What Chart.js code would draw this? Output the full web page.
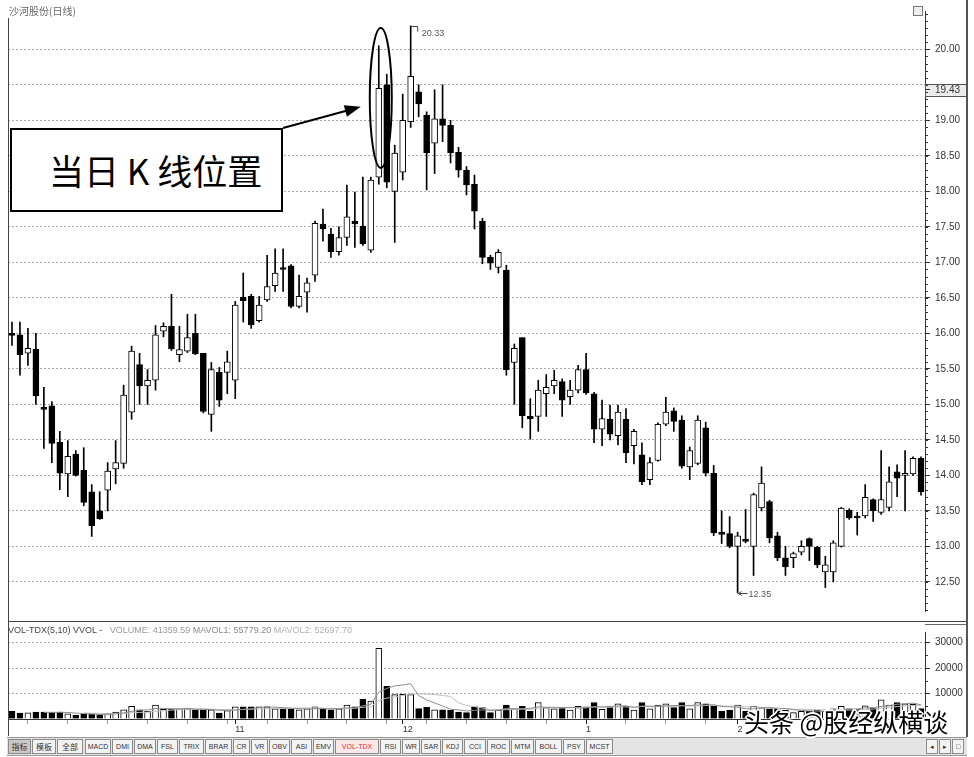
<!DOCTYPE html>
<html lang="zh-CN">
<head>
<meta charset="utf-8">
<title>沙河股份(日线)</title>
<script src="https://cdn.jsdelivr.net/npm/chart.js@4.4.1/dist/chart.umd.min.js"></script>
<style>
html,body{margin:0;padding:0;background:#fff;}
body{width:974px;height:757px;position:relative;overflow:hidden;font-family:"Liberation Sans","DejaVu Sans",Arial,sans-serif;}
canvas{position:absolute;left:0;}
#priceCanvas{top:0;}
#volCanvas{top:621px;}
.ln{position:absolute;background:#444;}
#title{position:absolute;left:9px;top:3px;font-size:10px;color:#666;font-family:"Noto Sans CJK SC",sans-serif;white-space:nowrap;}
#volhead{position:absolute;left:8px;top:625px;font-size:9px;white-space:nowrap;color:#999;}
#volhead .d{color:#444;}
#note{position:absolute;left:10px;top:128px;width:269px;height:80px;border:2px solid #000;background:#fff;font-family:"Noto Sans CJK SC",sans-serif;font-size:35px;line-height:80px;padding-left:0;box-sizing:content-box;color:#000;}
#note span{position:absolute;left:37px;top:0;white-space:nowrap;}
#tabs{position:absolute;left:7px;top:737px;width:960px;height:17px;background:#e4e4e4;border-top:1px solid #999;border-bottom:1px solid #999;}
.tab{position:absolute;top:1px;height:13px;border:1px solid #8a8a8a;background:#f3f3f3;font-size:7px;line-height:13px;text-align:center;color:#333;white-space:nowrap;overflow:hidden;font-family:"Liberation Sans",sans-serif;}
.tab.cjk{font-family:"Noto Sans CJK SC",sans-serif;font-size:8px;}
.tab.sel{background:#c8c8c8;}
.tab.red{color:#e0303a;background:#fbe9ea;}
#wm{position:absolute;left:744px;top:703px;font-family:"Noto Sans CJK SC",sans-serif;font-size:25px;color:#000;white-space:nowrap;
 text-shadow:1px 1px 0 #fff,-1px -1px 0 #fff,1px -1px 0 #fff,-1px 1px 0 #fff,2px 0 0 #fff,-2px 0 0 #fff,0 2px 0 #fff,0 -2px 0 #fff;}
#icon{position:absolute;left:913px;top:6px;width:8px;height:8px;border:1px solid #777;background:#eee;}
</style>
</head>
<body>
<canvas id="priceCanvas" width="974" height="622"></canvas>
<canvas id="volCanvas" width="974" height="116"></canvas>

<div class="ln" style="left:8px;top:18px;width:1px;height:718px;"></div>
<div class="ln" style="left:8px;top:621px;width:960px;height:1px;"></div>
<div class="ln" style="left:966px;top:0px;width:2px;height:737px;background:#555;"></div>
<div class="ln" style="left:925px;top:624px;width:42px;height:1px;background:#666;"></div>
<div id="icon"></div>
<div id="title">沙河股份(日线)</div>
<div id="volhead"><span class="d">VOL-TDX(5,10) VVOL -</span>&nbsp;&nbsp; VOLUME: 41359.59 <span style="color:#888">MAVOL1: 55779.20</span> <span style="color:#b0b0b0">MAVOL2: 52697.70</span></div>
<div id="note"><span>当日 K 线位置</span></div>
<div id="tabs"></div>
<div id="wm">头条 @股经纵横谈</div>

<script>
// ---------------- DATA ----------------
const days = Array.from({length: 115}, (_, i) => String(i + 1));   // trading-day categories

const openP = [
 16.00,15.98,15.72,15.78,14.95,14.98,14.47,14.02,14.30,14.07,
 13.77,13.50,13.79,14.09,14.17,14.89,15.56,15.26,15.34,16.03,
 16.10,15.70,15.75,16.00,15.72,14.86,15.45,15.45,15.34,16.51,
 16.52,16.18,16.47,16.67,16.92,16.95,16.38,16.58,16.82,17.54,
 17.40,17.15,17.35,17.58,17.51,17.17,18.20,19.50,18.00,18.27,
 18.98,19.40,19.07,18.68,19.02,18.93,18.55,18.30,18.10,17.58,
 17.07,16.93,16.89,15.59,15.94,14.83,14.83,15.15,15.26,15.32,
 15.11,15.20,15.49,15.15,14.65,14.79,14.56,14.79,14.42,14.29,
 13.94,14.21,14.72,14.91,14.78,14.12,14.17,14.67,14.03,13.19,
 13.18,13.00,13.09,13.00,13.54,13.63,13.15,12.84,12.84,12.92,
 13.11,12.99,12.64,12.64,13.00,13.51,13.41,13.43,13.66,13.48,
 13.55,14.05,14.00,14.02,14.24];
const closeP = [
 15.97,15.70,15.79,15.12,14.93,14.45,14.03,14.27,14.00,13.62,
 13.29,13.39,14.06,14.18,15.13,15.75,15.26,15.34,15.98,16.10,
 15.78,15.77,15.94,15.71,14.90,15.49,15.06,15.60,16.40,16.46,
 16.12,16.40,16.66,16.85,16.90,16.38,16.52,16.71,17.55,17.47,
 17.15,17.35,17.64,17.54,17.26,18.16,19.45,18.13,18.54,19.00,
 19.62,19.23,18.54,19.02,18.93,18.54,18.30,18.09,17.72,17.07,
 16.99,17.14,15.49,15.79,14.84,14.80,15.20,15.24,15.34,15.06,
 15.20,15.49,15.16,14.65,14.80,14.58,14.89,14.32,14.62,13.91,
 14.18,14.72,14.89,14.76,14.13,14.35,14.78,14.03,13.19,13.17,
 13.00,13.15,13.07,13.73,13.89,13.12,12.84,12.71,12.90,13.00,
 13.00,12.74,12.74,13.05,13.54,13.40,13.40,13.69,13.50,13.66,
 13.91,13.96,14.02,14.24,13.77];
const highP = [
 16.16,16.16,16.07,16.00,15.24,15.04,14.62,14.49,14.35,14.39,
 13.87,13.77,14.18,14.49,15.27,15.82,15.72,15.49,16.11,16.15,
 16.55,16.10,16.27,16.27,15.72,15.59,15.52,15.75,16.45,16.85,
 16.55,16.52,17.10,17.19,17.19,16.97,16.82,16.78,17.58,17.75,
 17.48,17.50,18.09,17.99,18.20,18.20,20.05,19.65,18.65,19.37,
 20.33,19.50,19.12,19.43,19.50,19.00,18.62,18.35,18.23,17.62,
 17.10,17.18,16.96,15.85,15.94,15.08,15.34,15.42,15.48,15.36,
 15.34,15.55,15.72,15.17,15.06,14.99,14.99,14.94,14.65,14.46,
 14.25,14.74,15.10,14.95,14.84,14.40,14.84,14.75,14.14,13.50,
 13.42,13.20,13.52,13.75,14.12,13.65,13.20,13.00,12.92,13.08,
 13.12,13.00,12.86,13.08,13.55,13.53,13.48,13.87,13.67,14.35,
 14.12,14.15,14.35,14.26,14.26];
const lowP = [
 15.83,15.41,15.55,15.00,14.38,14.18,13.80,13.70,13.99,13.57,
 13.14,13.38,13.50,13.88,14.10,14.79,15.00,15.00,15.20,15.95,
 15.76,15.60,15.73,15.70,14.88,14.62,14.97,15.15,15.08,16.16,
 16.07,16.16,16.45,16.59,16.59,16.36,16.36,16.30,16.73,17.30,
 17.07,17.10,17.24,17.21,17.24,17.14,18.10,18.05,17.28,18.16,
 18.90,19.05,18.02,18.25,18.70,18.40,18.20,17.95,17.47,16.98,
 16.90,16.85,15.41,15.00,14.67,14.51,14.62,14.83,15.15,14.83,
 15.00,15.16,15.14,14.46,14.42,14.50,14.43,14.18,14.16,13.87,
 13.87,14.20,14.70,14.62,14.10,13.94,14.15,13.99,13.15,13.04,
 12.98,12.35,13.05,12.59,13.50,13.05,12.80,12.59,12.70,12.88,
 12.80,12.70,12.42,12.50,12.99,13.38,13.16,13.40,13.35,13.45,
 13.50,13.70,13.50,14.00,13.72];
const volume = [
 3000,2300,2400,2700,2700,2700,2700,2000,1500,1800,
 1800,1600,2200,2700,3600,5000,3600,3000,5500,3800,
 4000,3800,4000,3600,3600,3600,2300,3300,4800,4800,
 4800,4800,4800,4000,3900,4000,3600,4000,4800,3900,
 3600,4000,5500,4800,7800,7000,27800,12800,9600,9700,
 9600,4100,4600,3600,3600,3400,2700,2500,4800,4500,
 2500,3500,5500,4000,5000,3000,6500,4500,4000,4500,
 3500,5000,4800,6500,3800,4500,6000,5000,3500,6500,
 4000,5500,6000,4500,6500,4000,6500,6000,5000,3000,
 3500,5500,3000,5000,4500,4000,3800,3500,2500,3000,
 3000,3500,3000,4000,5000,4000,3800,5200,4264,7500,
 5500,6500,6000,5800,4136];

const priceTickValues = [12.5,13.0,13.5,14.0,14.5,15.0,15.5,16.0,16.5,17.0,17.5,18.0,18.5,19.0,19.5,20.0];
const unlabeledTick = 19.5;      // gridline kept, its label is covered by the marked-price box
const markedPrice = 19.43;
const volTickValues = [0,10000,20000,30000];
const monthTickIdx = [28,49,72,91];
const monthTickText = ['11','12','1','2'];
const highLabel = {idx: 50, text: '20.33'};
const lowLabel = {idx: 91, text: '12.35'};
const circledIdx = [46,47];
const maPeriods = [5,10];

// ---------------- derived ----------------
const isUp = openP.map((o,i)=>closeP[i] >= o);
const bodies = openP.map((o,i)=>[o, closeP[i]]);
const wicks = lowP.map((l,i)=>[l, highP[i]]);
function movingAvg(arr, n){ return arr.map((_,i)=> i < n-1 ? null : arr.slice(i-n+1,i+1).reduce((a,b)=>a+b,0)/n); }
const ma1 = movingAvg(volume, maPeriods[0]);
const ma2 = movingAvg(volume, maPeriods[1]);

// ---------------- tabs ----------------
const tabNames = ['指标','模板','全部','MACD','DMI','DMA','FSL','TRIX','BRAR','CR','VR','OBV','ASI','EMV','VOL-TDX','RSI','WR','SAR','KDJ','CCI','ROC','MTM','BOLL','PSY','MCST'];
const tabBoxes = [[1,21],[25,22],[50,24],[78,24],[105,19],[127,20],[150,19],[172,23],[198,25],[226,15],[244,15],[262,19],[284,19],[306,19],[328,42],[373,19],[395,16],[414,18],[435,19],[457,20],[480,21],[504,21],[528,25],[556,20],[579,25]];
const tabsEl = document.getElementById('tabs');
tabNames.forEach((t,i)=>{
  const d = document.createElement('div');
  d.className = 'tab' + (i<3 ? ' cjk' : '') + (i===0 ? ' sel' : '') + (t==='VOL-TDX' ? ' red' : '');
  d.style.left = tabBoxes[i][0] + 'px'; d.style.width = tabBoxes[i][1] + 'px';
  d.textContent = t; tabsEl.appendChild(d);
});
['◂','▸','□'].forEach((t,i)=>{
  const d = document.createElement('div');
  d.className='tab'; d.style.left=(919+i*13)+'px'; d.style.width='10px'; d.textContent=t; tabsEl.appendChild(d);
});

// ---------------- charts ----------------
const AXIS_W = 42;
const common = {
  responsive:false, animation:false, devicePixelRatio:1,
  plugins:{legend:{display:false}, tooltip:{enabled:false}}
};

const priceExtras = {
  id:'priceExtras',
  beforeDraw(chart){
    const {ctx, scales:{y}, chartArea} = chart;
    const py = y.getPixelForValue(markedPrice);
    ctx.save(); ctx.fillStyle='#ececec';
    ctx.fillRect(chartArea.right+1, py-6, AXIS_W-2, 12);
    ctx.restore();
  },
  afterDraw(chart){
    const {ctx, scales:{x,y}, chartArea} = chart;
    ctx.save();
    // minor ticks
    ctx.strokeStyle='#333'; ctx.lineWidth=1;
    for (let k = Math.ceil(y.min*10); k <= Math.floor(y.max*10); k++){
      const py = Math.round(y.getPixelForValue(k/10))+0.5;
      ctx.beginPath(); ctx.moveTo(chartArea.right, py); ctx.lineTo(chartArea.right+3, py); ctx.stroke();
    }
    // marked price box
    const mp = Math.round(y.getPixelForValue(markedPrice))+0.5;
    ctx.strokeStyle='#555';
    ctx.strokeRect(chartArea.right+0.5, mp-6, AXIS_W-1, 12);
    // high label
    ctx.strokeStyle='#444'; ctx.fillStyle='#555'; ctx.font='9px "Liberation Sans", Arial';
    const hx = x.getPixelForValue(highLabel.idx), hy = Math.round(y.getPixelForValue(highP[highLabel.idx]))+0.5;
    ctx.beginPath(); ctx.moveTo(hx, hy); ctx.lineTo(hx+7, hy); ctx.lineTo(hx+7, hy+5); ctx.stroke();
    ctx.textBaseline='middle'; ctx.textAlign='left';
    ctx.fillText(highLabel.text, hx+11, hy+7);
    // low label
    const lx = x.getPixelForValue(lowLabel.idx), ly = Math.round(y.getPixelForValue(lowP[lowLabel.idx]))+0.5;
    ctx.beginPath(); ctx.moveTo(lx, ly); ctx.lineTo(lx+10, ly); ctx.stroke();
    ctx.beginPath(); ctx.moveTo(lx+1, ly); ctx.lineTo(lx+4, ly-2); ctx.moveTo(lx+1, ly); ctx.lineTo(lx+4, ly+2); ctx.stroke();
    ctx.fillText(lowLabel.text, lx+11, ly+1);
    // ellipse around the circled candle
    const cx = (x.getPixelForValue(circledIdx[0]) + x.getPixelForValue(circledIdx[1]))/2 - 2;
    const top = y.getPixelForValue(20.30), bot = y.getPixelForValue(18.33);
    ctx.strokeStyle='#000'; ctx.lineWidth=2;
    ctx.beginPath(); ctx.ellipse(cx, (top+bot)/2, 11, (bot-top)/2, 0, 0, Math.PI*2); ctx.stroke();
    // arrow from note box to ellipse
    const sx = 283, sy = 128;
    const tx = cx - 11 - 9, ty = y.getPixelForValue(19.19);
    const ang = Math.atan2(ty-sy, tx-sx);
    ctx.lineWidth=2;
    ctx.beginPath(); ctx.moveTo(sx, sy); ctx.lineTo(tx - 12*Math.cos(ang), ty - 12*Math.sin(ang)); ctx.stroke();
    ctx.fillStyle='#000';
    ctx.beginPath();
    ctx.moveTo(tx, ty);
    ctx.lineTo(tx - 16*Math.cos(ang) + 6*Math.sin(ang), ty - 16*Math.sin(ang) - 6*Math.cos(ang));
    ctx.lineTo(tx - 16*Math.cos(ang) - 6*Math.sin(ang), ty - 16*Math.sin(ang) + 6*Math.cos(ang));
    ctx.closePath(); ctx.fill();
    ctx.restore();
  }
};

new Chart(document.getElementById('priceCanvas'), {
  type:'bar',
  data:{
    labels: days,
    datasets:[
      {label:'wick', data: wicks, backgroundColor:'#000', borderWidth:0, barThickness:1, grouped:false, order:2},
      {label:'body', data: bodies, backgroundColor: isUp.map(u=>u?'#fff':'#000'), borderColor:'#000', borderWidth:1,
       borderSkipped:false, barThickness:6, minBarLength:2, grouped:false, order:1}
    ]
  },
  options:{
    ...common,
    layout:{padding:{left:8, right:7, top:5, bottom:1}},
    scales:{
      x:{type:'category', offset:true, display:false},
      y:{position:'right', min:12.09, max:20.54,
         afterBuildTicks: s => { s.ticks = priceTickValues.concat([markedPrice]).map(v=>({value:v})); },
         afterFit: s => { s.width = AXIS_W; },
         ticks:{callback: v => v === unlabeledTick ? '' : Number(v).toFixed(2), color:'#333', font:{size:10, family:'"Liberation Sans", Arial'}, padding:5},
         grid:{color: c => (c.tick && c.tick.value === markedPrice) ? 'rgba(0,0,0,0)' : '#a8a8a8', tickLength:5, tickColor:'#333'},
         border:{display:true, color:'#333', width:1, dash:[2,2]}
      }
    }
  },
  plugins:[priceExtras]
});

const volExtras = {
  id:'volExtras',
  afterDraw(chart){
    const {ctx, scales:{y}, chartArea} = chart;
    ctx.save(); ctx.strokeStyle='#333';
    for (let v = 5000; v < y.max; v += 10000){
      const py = Math.round(y.getPixelForValue(v))+0.5;
      ctx.beginPath(); ctx.moveTo(chartArea.right, py); ctx.lineTo(chartArea.right+3, py); ctx.stroke();
    }
    ctx.restore();
  }
};

new Chart(document.getElementById('volCanvas'), {
  type:'bar',
  data:{
    labels: days,
    datasets:[
      {type:'line', label:'MAVOL1', data: ma1, borderColor:'#8c8c8c', borderWidth:1, pointRadius:0, order:0, spanGaps:false},
      {type:'line', label:'MAVOL2', data: ma2, borderColor:'#bdbdbd', borderWidth:1, pointRadius:0, order:0},
      {label:'VOLUME', data: volume, backgroundColor: isUp.map(u=>u?'#fff':'#000'), borderColor:'#000', borderWidth:1,
       borderSkipped:'start', barThickness:6, order:1}
    ]
  },
  options:{
    ...common,
    layout:{padding:{left:8, right:7, top:3, bottom:2}},
    scales:{
      x:{type:'category', offset:true,
         afterFit: s => { s.height = 16; },
         ticks:{autoSkip:false, maxRotation:0, minRotation:0, align:'start', padding:0, color:'#333',
                font:{size:9, family:'"Liberation Sans", Arial'},
                callback: (v, i) => { const k = monthTickIdx.indexOf(i); return k >= 0 ? monthTickText[k] : ''; }},
         grid:{drawOnChartArea:false, offset:false, tickLength:5,
               tickColor: c => monthTickIdx.includes(c.index) ? '#222' : (c.index % 5 === 2 ? '#999' : 'rgba(0,0,0,0)')},
         border:{display:true, color:'#333'}
      },
      y:{position:'right', min:0, max:34200,
         afterBuildTicks: s => { s.ticks = volTickValues.map(v=>({value:v})); },
         afterFit: s => { s.width = AXIS_W; },
         ticks:{callback: v => v === 0 ? '' : String(v), color:'#333', font:{size:10, family:'"Liberation Sans", Arial'}, padding:5},
         grid:{color: c => (c.tick && c.tick.value === 0) ? 'rgba(0,0,0,0)' : '#a8a8a8', tickLength:5, tickColor:'#333'},
         border:{display:true, color:'#333', width:1, dash:[2,2]}
      }
    }
  },
  plugins:[volExtras]
});
</script>
</body>
</html>
